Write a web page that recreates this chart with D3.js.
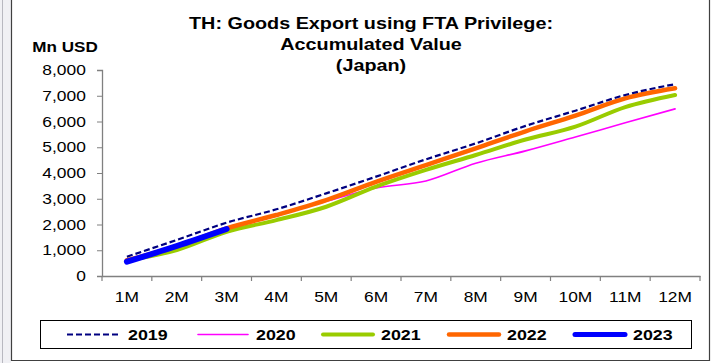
<!DOCTYPE html>
<html><head><meta charset="utf-8">
<script src="https://cdn.jsdelivr.net/npm/d3@7"></script>
<style>body{margin:0;background:#fff}svg{display:block}text{font-family:"Liberation Sans",Arial,sans-serif}</style>
</head><body><svg id="c" width="712" height="363"></svg>
<script>
const months = ["1M","2M","3M","4M","5M","6M","7M","8M","9M","10M","11M","12M"];
const yTicks = [0,1000,2000,3000,4000,5000,6000,7000,8000];
const s2019 = [750,1400,2070,2590,3210,3860,4530,5150,5830,6420,7030,7450];
const s2020 = [620,1130,1790,2350,2900,3420,3690,4380,4860,5400,5950,6490];
const s2021 = [600,1010,1720,2170,2690,3470,4120,4700,5300,5800,6560,7030];
const s2022 = [610,1150,1850,2370,2950,3660,4310,4960,5620,6230,6900,7290];
const s2023 = [555,1165,1825];
const seriesNames = ["2019","2020","2021","2022","2023"];

const series = [
  {name:"2020", data:s2020, color:"#FF00FF", w:1.6, dash:null},
  {name:"2021", data:s2021, color:"#99CC00", w:4, dash:null},
  {name:"2022", data:s2022, color:"#FF6600", w:4.5, dash:null},
  {name:"2023", data:s2023, color:"#0000FF", w:6, dash:null},
  {name:"2019", data:s2019, color:"#000080", w:2.2, dash:"6,3"}
];

const svg = d3.select("#c");
svg.append("rect").attr("x",0).attr("y",0).attr("width",11).attr("height",363).attr("fill","#f0f0f4");
svg.append("line").attr("x1",2.5).attr("x2",2.5).attr("y1",0).attr("y2",363).attr("stroke","#b8b8c0").attr("stroke-width",1);
svg.append("path").attr("d","M11.5,0V360.5H709.5V0").attr("fill","none").attr("stroke","#404040").attr("stroke-width",1.2);

const x = d3.scaleBand().domain(months).range([102,700]);
const y = d3.scaleLinear().domain([0,8000]).range([276,70]);

const tg = svg.append("g").attr("transform","translate(371,0) scale(1.2,1)");
const title = tg.append("text").attr("text-anchor","middle").attr("font-weight","bold").attr("font-size",16.5).attr("fill","#000");
["TH: Goods Export using FTA Privilege:","Accumulated Value","(Japan)"].forEach((t,i)=>{
  title.append("tspan").attr("x",0).attr("y",29+i*21).text(t);
});
svg.append("g").attr("transform","translate(65,52) scale(1.22,1)")
  .append("text").attr("text-anchor","middle").attr("font-weight","bold").attr("font-size",14).text("Mn USD");

const yAxis = d3.axisLeft(y).tickValues(yTicks).tickFormat(d3.format(",")).tickSize(5).tickPadding(0);
const gy = svg.append("g").attr("transform","translate(102,0)").call(yAxis);
gy.select(".domain").attr("stroke","#808080").attr("stroke-width",1.3);
gy.selectAll(".tick line").attr("stroke","#808080");
gy.selectAll("text").attr("font-size",14.5).attr("fill","#000").attr("font-family","Liberation Sans, Arial, sans-serif")
  .attr("x",-13.5).attr("transform","scale(1.2,1)");

const xAxis = d3.axisBottom(x).tickSize(0).tickPadding(15);
const gx = svg.append("g").attr("transform","translate(0,276)").call(xAxis);
gx.select(".domain").attr("stroke","#808080").attr("stroke-width",1.3);
gx.selectAll("text").attr("font-size",15.5).attr("fill","#000").attr("font-family","Liberation Sans, Arial, sans-serif")
  .attr("transform","scale(1.12,1)");
const bounds = months.map(m=>x(m)).concat([x(months[11])+x.bandwidth()]);
svg.append("g").selectAll("line").data(bounds).join("line")
  .attr("x1",d=>d).attr("x2",d=>d).attr("y1",276).attr("y2",281).attr("stroke","#808080").attr("stroke-width",1.2);

const line = d3.line().x((d,i)=>x(months[i])+x.bandwidth()/2).y(d=>y(d)).curve(d3.curveMonotoneX);
series.forEach(s=>{
  svg.append("path").datum(s.data).attr("d",line).attr("fill","none")
    .attr("stroke",s.color).attr("stroke-width",s.w).attr("stroke-linecap", s.dash?"butt":"round")
    .attr("stroke-linejoin","round").attr("stroke-dasharray",s.dash);
});

svg.append("rect").attr("x",40.5).attr("y",320.5).attr("width",651).attr("height",28).attr("fill","#fff").attr("stroke","#000").attr("stroke-width",1);
const legendPos = {"2019":67,"2020":195,"2021":320,"2022":446,"2023":572};
const byName = {}; series.forEach(s=>byName[s.name]=s);
seriesNames.forEach(n=>{
  const s = byName[n], lx = legendPos[n];
  svg.append("line").attr("x1",lx+(s.dash?0:3)).attr("x2",lx+56-(s.dash?4:3)).attr("y1",334.5).attr("y2",334.5)
    .attr("stroke",s.color).attr("stroke-width",Math.min(s.w,5)).attr("stroke-dasharray",s.dash).attr("stroke-linecap",s.dash?"butt":"round");
  svg.append("g").attr("transform",`translate(${lx+61},340) scale(1.15,1)`)
    .append("text").attr("font-weight","bold").attr("font-size",15.5).text(n);
});
</script></body></html>
